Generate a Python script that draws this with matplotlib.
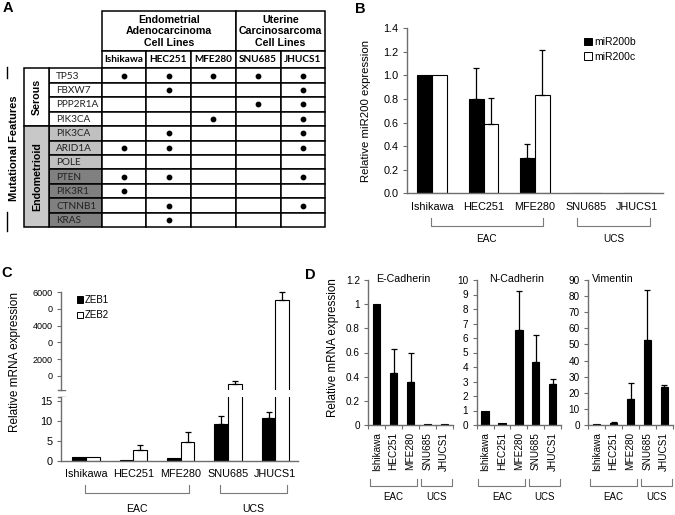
import matplotlib
matplotlib.use('Agg')
import matplotlib.pyplot as plt
from matplotlib.patches import Rectangle, Patch
import matplotlib.transforms as mtransforms
import numpy as np

plt.rcParams['font.family'] = ['Liberation Sans', 'DejaVu Sans']

# ---------------- data ----------------
cell_lines = ['Ishikawa', 'HEC251', 'MFE280', 'SNU685', 'JHUCS1']
groups = ['EAC', 'UCS']
group_headers = ['Endometrial\nAdenocarcinoma\nCell Lines', 'Uterine\nCarcinosarcoma\nCell Lines']

genes = ['TP53', 'FBXW7', 'PPP2R1A', 'PIK3CA', 'PIK3CA', 'ARID1A', 'POLE',
         'PTEN', 'PIK3R1', 'CTNNB1', 'KRAS']
gene_classes = ['Serous', 'Endometrioid']
class_sizes = [4, 7]
gene_shade = ['#ffffff'] * 4 + ['#c0c0c0'] * 3 + ['#808080'] * 4
mutations = [
    [1, 1, 1, 1, 1],
    [0, 1, 0, 0, 1],
    [0, 0, 0, 1, 1],
    [0, 0, 1, 0, 1],
    [0, 1, 0, 0, 1],
    [1, 1, 0, 0, 1],
    [0, 0, 0, 0, 0],
    [1, 1, 0, 0, 1],
    [1, 0, 0, 0, 0],
    [0, 1, 0, 0, 1],
    [0, 1, 0, 0, 0],
]

mir200b = [1.0, 0.80, 0.30, 0.002, 0.004]
mir200b_err = [0, 0.26, 0.12, 0, 0]
mir200c = [1.0, 0.59, 0.83, 0.002, 0.004]
mir200c_err = [0, 0.22, 0.39, 0, 0]

zeb1 = [1.0, 0.1, 0.8, 9.1, 10.7]
zeb1_err = [0, 0, 0, 2.1, 1.6]
zeb2 = [1.0, 2.6, 4.8, 485, 5530]
zeb2_err = [0, 1.4, 2.4, 215, 460]
zeb_upper_ticks = [1000, 2000, 3000, 4000, 5000, 6000]
zeb_upper_labels = ['0', '2000', '0', '4000', '0', '6000']

ecad = [1.0, 0.43, 0.355, 0.005, 0.006]
ecad_err = [0, 0.20, 0.245, 0, 0]
ncad = [1.0, 0.12, 6.57, 4.35, 2.86]
ncad_err = [0, 0, 2.65, 1.83, 0.30]
vim = [0.8, 1.0, 16.0, 52.8, 23.6]
vim_err = [0, 0.8, 10.3, 31.0, 1.3]

# ---------------- figure ----------------
W, H = 675, 515
fig = plt.figure(figsize=(W / 100, H / 100), dpi=100)


def pax(x0, y0, x1, y1):
    return fig.add_axes([x0 / W, 1 - y1 / H, (x1 - x0) / W, (y1 - y0) / H])


ov = fig.add_axes([0, 0, 1, 1])
ov.set_xlim(0, W)
ov.set_ylim(H, 0)
ov.axis('off')

AXC = '#6e6e6e'
BRC = '#7a7a7a'


def style_axes(ax, fs):
    for s in ['top', 'right']:
        ax.spines[s].set_visible(False)
    for s in ['left', 'bottom']:
        ax.spines[s].set_color(AXC)
        ax.spines[s].set_linewidth(1.0)
    ax.tick_params(axis='y', direction='out', length=3, width=0.8, color=AXC,
                   labelsize=fs, pad=3)
    ax.tick_params(axis='x', length=0, labelsize=fs)


def errbars(ax, xs, vals, errs, clip=True):
    xs = np.asarray(xs, float)
    vals = np.asarray(vals, float)
    errs = np.asarray(errs, float)
    m = errs > 0
    if m.any():
        ax.errorbar(xs[m], vals[m], yerr=[np.zeros(m.sum()), errs[m]], fmt='none',
                    ecolor='black', elinewidth=0.9, capsize=2.3, capthick=0.9,
                    clip_on=clip)


def bracket(ax, x0, x1, ytop, ybot, label, ylab, fs):
    tr = mtransforms.blended_transform_factory(ax.transData, ov.transData)
    ax.plot([x0, x0, x1, x1], [ytop, ybot, ybot, ytop], transform=tr,
            clip_on=False, color=BRC, lw=0.8)
    ax.text((x0 + x1) / 2, ylab, label, transform=tr, ha='center', va='center',
            fontsize=fs)


# ---------------- panel A: table ----------------
col_edges = [101.7, 146, 191, 235.7, 280.7, 325]
row_top, row_h = 68.3, 14.45
hdr_top, hdr_mid = 11, 50.7
grp_x0, gene_x0 = 24.3, 49.3
calibri = ['Lato', 'Liberation Sans']

# group headers
ov.add_patch(Rectangle((col_edges[0], hdr_top), col_edges[3] - col_edges[0], hdr_mid - hdr_top,
                       fc='white', ec='black', lw=1.1))
ov.add_patch(Rectangle((col_edges[3], hdr_top), col_edges[5] - col_edges[3], hdr_mid - hdr_top,
                       fc='white', ec='black', lw=1.1))
ov.text((col_edges[0] + col_edges[3]) / 2, (hdr_top + hdr_mid) / 2 + 0.5, group_headers[0],
        ha='center', va='center', fontsize=7.7, fontweight='bold', linespacing=1.15)
ov.text((col_edges[3] + col_edges[5]) / 2, (hdr_top + hdr_mid) / 2 + 0.5, group_headers[1],
        ha='center', va='center', fontsize=7.7, fontweight='bold', linespacing=1.15)
# column names
for j, name in enumerate(cell_lines):
    ov.add_patch(Rectangle((col_edges[j], hdr_mid), col_edges[j + 1] - col_edges[j], row_top - hdr_mid,
                           fc='white', ec='black', lw=1.1))
    ov.text((col_edges[j] + col_edges[j + 1]) / 2, (hdr_mid + row_top) / 2 + 0.5, name,
            ha='center', va='center', fontsize=7.2, fontweight='bold', family=calibri)

# gene rows
for i, g in enumerate(genes):
    y0 = row_top + i * row_h
    ov.add_patch(Rectangle((gene_x0, y0), col_edges[0] - gene_x0, row_h,
                           fc=gene_shade[i], ec='black', lw=1.1))
    ov.text(gene_x0 + 7, y0 + row_h / 2 + 0.5, g, ha='left', va='center', fontsize=7.2,
            family=calibri, color='#222222')
    for j in range(len(cell_lines)):
        ov.add_patch(Rectangle((col_edges[j], y0), col_edges[j + 1] - col_edges[j], row_h,
                               fc='white', ec='black', lw=1.1))

# dots
dx, dy = [], []
for i, row in enumerate(mutations):
    for j, v in enumerate(row):
        if v:
            dx.append((col_edges[j] + col_edges[j + 1]) / 2)
            dy.append(row_top + (i + 0.5) * row_h)
ov.scatter(dx, dy, s=10, color='black', zorder=5)

# class cells
start = 0
class_fc = ['#ffffff', '#c8c8c8']
for k, (cls, n) in enumerate(zip(gene_classes, class_sizes)):
    y0 = row_top + start * row_h
    ov.add_patch(Rectangle((grp_x0, y0), gene_x0 - grp_x0, n * row_h, fc=class_fc[k],
                           ec='black', lw=1.1))
    ov.text((grp_x0 + gene_x0) / 2, y0 + n * row_h / 2, cls, rotation=90, ha='center',
            va='center', fontsize=7.7, fontweight='bold')
    start += n

ov.text(14, 148, 'Mutational Features', rotation=90, ha='center', va='center',
        fontsize=8, fontweight='bold')
ov.plot([7, 7], [67, 78], color='black', lw=1.0)
ov.plot([7, 7], [212, 231], color='black', lw=1.0)

# ---------------- panel B ----------------
axB = pax(406.7, 28.3, 663, 193.3)
x = np.arange(len(cell_lines))
bw = 0.29
axB.bar(x - bw / 2, mir200b, bw, color='black', edgecolor='black', lw=0.8, label='miR200b')
axB.bar(x + bw / 2, mir200c, bw, color='white', edgecolor='black', lw=0.8, label='miR200c')
errbars(axB, x - bw / 2, mir200b, mir200b_err)
errbars(axB, x + bw / 2, mir200c, mir200c_err)
axB.set_xlim(-0.5, 4.5)
axB.set_ylim(0, 1.4)
axB.set_yticks(np.arange(0, 1.41, 0.2))
axB.set_yticklabels(['%.1f' % v for v in np.arange(0, 1.41, 0.2)])
axB.set_xticks(x)
axB.set_xticklabels(cell_lines)
style_axes(axB, 7.8)
axB.tick_params(axis='x', pad=6)
axB.set_ylabel('Relative miR200 expression', fontsize=8.2, labelpad=9)
hB = [Patch(fc='black', ec='black', lw=0.7), Patch(fc='white', ec='black', lw=0.7)]
axB.legend(hB, ['miR200b', 'miR200c'], loc='upper left', frameon=False, fontsize=7.5,
           handlelength=0.75, handleheight=0.75, handletextpad=0.2, labelspacing=0.45,
           borderaxespad=0, borderpad=0,
           bbox_to_anchor=(584 / W, 1 - 37 / H), bbox_transform=fig.transFigure)
bracket(axB, -0.03, 2.15, 218, 226, groups[0], 239, 7.2)
bracket(axB, 2.82, 4.25, 218, 226, groups[1], 239, 7.2)

# ---------------- panel C ----------------
cx0, cx1 = 61, 297.7
up_top, up_bot = 292.3, 390.0
lo_top, lo_bot = 396.7, 460.7
axCu = pax(cx0, up_top, cx1, up_bot)
axCl = pax(cx0, lo_top, cx1, lo_bot)
for ax in (axCu, axCl):
    ax.bar(x - bw / 2, zeb1, bw, color='black', edgecolor='black', lw=0.8)
    ax.bar(x + bw / 2, zeb2, bw, color='white', edgecolor='black', lw=0.8)
    ax.set_xlim(-0.53, 4.47)
errbars(axCl, x - bw / 2, zeb1, zeb1_err)
errbars(axCl, np.array([1, 2]) + bw / 2, np.array(zeb2)[[1, 2]], np.array(zeb2_err)[[1, 2]])
errbars(axCu, np.array([3, 4]) + bw / 2, np.array(zeb2)[[3, 4]], np.array(zeb2_err)[[3, 4]],
        clip=False)
axCu.set_ylim(144, 6000)
axCl.set_ylim(0, 16.08)
style_axes(axCu, 6.5)
style_axes(axCl, 7.8)
axCu.spines['bottom'].set_visible(False)
axCu.set_xticks([])
axCu.set_yticks(zeb_upper_ticks)
axCu.set_yticklabels(zeb_upper_labels)
axCl.set_yticks([0, 5, 10, 15])
axCl.set_xticks(x)
axCl.set_xticklabels(cell_lines)
axCl.tick_params(axis='x', pad=6)
# break marks
ov.plot([cx0 - 3.5, cx0 + 3.5], [up_bot, up_bot], color=AXC, lw=1.0)
ov.plot([cx0 - 3.5, cx0 + 3.5], [lo_top, lo_top], color=AXC, lw=1.0)
ov.text(15, 362, 'Relative mRNA expression', rotation=90, ha='center', va='center', fontsize=8.5)
hC = [Patch(fc='black', ec='black', lw=0.7), Patch(fc='white', ec='black', lw=0.7)]
axCu.legend(hC, ['ZEB1', 'ZEB2'], loc='upper left', frameon=False, fontsize=7,
            handlelength=0.6, handleheight=0.6, handletextpad=0.2, labelspacing=0.55,
            borderaxespad=0, borderpad=0,
            bbox_to_anchor=(77 / W, 1 - 295 / H), bbox_transform=fig.transFigure)
bracket(axCl, -0.02, 2.17, 485, 493.3, groups[0], 508.5, 7.6)
bracket(axCl, 2.83, 4.25, 485, 493.3, groups[1], 508.5, 7.6)

# ---------------- panel D ----------------
d_specs = [
    (368.3, 'E-Cadherin', ecad, ecad_err, 1.2, 0.2, 0.41),
    (476.7, 'N-Cadherin', ncad, ncad_err, 10, 1, 0.47),
    (588.3, 'Vimentin', vim, vim_err, 90, 10, 0.29),
]
dbw = 0.44
for (dx0, title, vals, errs, ymax, step, tx) in d_specs:
    ax = pax(dx0, 280.0, dx0 + 84.4, 425.0)
    ax.bar(x, vals, dbw, color='black', edgecolor='black', lw=0.8)
    errbars(ax, x, vals, errs, clip=False)
    ax.set_xlim(-0.5, 4.5)
    ax.set_ylim(0, ymax)
    ticks = np.arange(0, ymax + step / 2, step)
    ax.set_yticks(ticks)
    ax.set_yticklabels(['%g' % round(t, 2) for t in ticks])
    ax.set_xticks(x)
    ax.set_xticklabels(cell_lines, rotation=90)
    style_axes(ax, 7.2)
    ax.tick_params(axis='x', pad=5)
    ax.set_xticks(np.arange(-0.5, 5, 1), minor=True)
    ax.tick_params(axis='x', which='minor', direction='out', length=3, width=0.8, color=AXC)
    ax.text(tx, 1.01, title, transform=ax.transAxes, ha='center', va='center', fontsize=7.7)
    bracket(ax, -0.4, 2.38, 479, 485.5, groups[0], 497, 7.0)
    bracket(ax, 2.62, 4.44, 479, 485.5, groups[1], 497, 7.0)
ov.text(333, 348, 'Relative mRNA expression', rotation=90, ha='center', va='center', fontsize=8.4)

# panel letters
for lab, (px, py) in zip(['A', 'B', 'C', 'D'], [(8, 8), (360, 9), (7, 273), (310, 275)]):
    ov.text(px, py, lab, ha='center', va='center', fontsize=10.5, fontweight='bold')

fig.savefig('out.png', dpi=100)
